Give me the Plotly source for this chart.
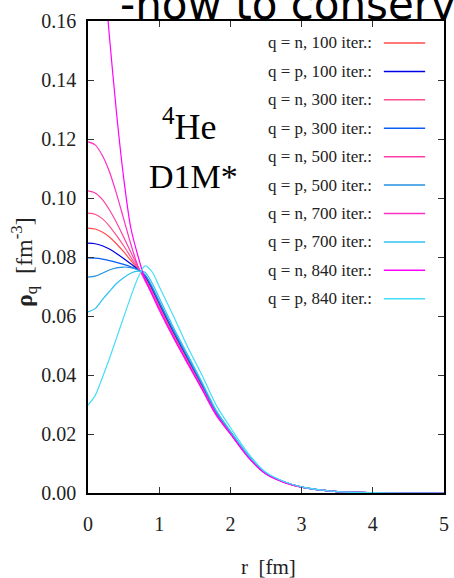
import plotly.graph_objects as go

# radial grid (fm)
r = [0.0, 0.1, 0.2, 0.3, 0.4, 0.5, 0.6, 0.7, 0.8, 0.9, 1.0, 1.2, 1.4, 1.6, 1.8,
     2.0, 2.25, 2.5, 2.75, 3.0, 3.5, 4.0, 4.5, 5.0]

# densities rho_q (fm^-3) for neutrons (n) and protons (p) at each iteration count
rho_n100 = [0.0898, 0.0895, 0.0885, 0.0868, 0.0845, 0.0818, 0.0789, 0.0760, 0.0730, 0.0687,
            0.0637, 0.0541, 0.0451, 0.0362, 0.0270, 0.0204, 0.0124, 0.0066, 0.0037, 0.0020,
            0.0005, 0.0001, 0.0, 0.0]
rho_p100 = [0.0847, 0.0845, 0.0838, 0.0827, 0.0812, 0.0795, 0.0777, 0.0758, 0.0735, 0.0692,
            0.0642, 0.0546, 0.0456, 0.0366, 0.0274, 0.0206, 0.0125, 0.0066, 0.0038, 0.0020,
            0.0005, 0.0001, 0.0, 0.0]
rho_n300 = [0.0949, 0.0945, 0.0930, 0.0905, 0.0873, 0.0838, 0.0800, 0.0763, 0.0728, 0.0684,
            0.0634, 0.0537, 0.0447, 0.0359, 0.0268, 0.0203, 0.0123, 0.0065, 0.0037, 0.0020,
            0.0005, 0.0001, 0.0, 0.0]
rho_p300 = [0.0797, 0.0796, 0.0793, 0.0788, 0.0782, 0.0775, 0.0767, 0.0757, 0.0738, 0.0695,
            0.0645, 0.0549, 0.0458, 0.0368, 0.0275, 0.0207, 0.0126, 0.0066, 0.0038, 0.0020,
            0.0005, 0.0001, 0.0, 0.0]
rho_n500 = [0.1024, 0.1017, 0.0995, 0.0960, 0.0917, 0.0868, 0.0817, 0.0768, 0.0725, 0.0680,
            0.0630, 0.0533, 0.0444, 0.0357, 0.0267, 0.0202, 0.0123, 0.0065, 0.0037, 0.0020,
            0.0005, 0.0001, 0.0, 0.0]
rho_p500 = [0.0732, 0.0735, 0.0745, 0.0756, 0.0763, 0.0766, 0.0764, 0.0757, 0.0740, 0.0700,
            0.0650, 0.0553, 0.0462, 0.0371, 0.0277, 0.0208, 0.0127, 0.0067, 0.0038, 0.0020,
            0.0005, 0.0001, 0.0, 0.0]
rho_n700 = [0.1190, 0.1180, 0.1145, 0.1090, 0.1015, 0.0930, 0.0845, 0.0770, 0.0720, 0.0676,
            0.0626, 0.0530, 0.0441, 0.0355, 0.0266, 0.0201, 0.0122, 0.0065, 0.0037, 0.0020,
            0.0005, 0.0001, 0.0, 0.0]
rho_p700 = [0.0614, 0.0625, 0.0655, 0.0683, 0.0710, 0.0730, 0.0745, 0.0752, 0.0748, 0.0712,
            0.0662, 0.0562, 0.0469, 0.0376, 0.0280, 0.0210, 0.0128, 0.0067, 0.0038, 0.0020,
            0.0005, 0.0001, 0.0, 0.0]
rho_n840 = [0.2150, 0.2060, 0.1830, 0.1550, 0.1290, 0.1070, 0.0900, 0.0805, 0.0725, 0.0672,
            0.0620, 0.0526, 0.0438, 0.0352, 0.0264, 0.0200, 0.0121, 0.0064, 0.0036, 0.0020,
            0.0005, 0.0001, 0.0, 0.0]
rho_p840 = [0.0298, 0.0330, 0.0390, 0.0455, 0.0525, 0.0595, 0.0665, 0.0728, 0.0770, 0.0750,
            0.0700, 0.0600, 0.0495, 0.0400, 0.0298, 0.0222, 0.0134, 0.0070, 0.0039, 0.0021,
            0.0005, 0.0001, 0.0, 0.0]

series_names = ["q = n, 100 iter.:", "q = p, 100 iter.:", "q = n, 300 iter.:", "q = p, 300 iter.:",
                "q = n, 500 iter.:", "q = p, 500 iter.:", "q = n, 700 iter.:", "q = p, 700 iter.:",
                "q = n, 840 iter.:", "q = p, 840 iter.:"]
series_values = [rho_n100, rho_p100, rho_n300, rho_p300, rho_n500,
                 rho_p500, rho_n700, rho_p700, rho_n840, rho_p840]
series_colors = ["#ff4d4d", "#0000e6", "#ff4f8f", "#0a5ff0", "#ff3fa5",
                 "#2390e2", "#ff2fc4", "#2ec2f2", "#ff00ff", "#45def8"]

x_ticks = [0, 1, 2, 3, 4, 5]
y_ticks = [0.00, 0.02, 0.04, 0.06, 0.08, 0.10, 0.12, 0.14, 0.16]

SERIF = "Liberation Serif"

fig = go.Figure()
for name, vals, col in zip(series_names, series_values, series_colors):
    fig.add_trace(go.Scatter(x=r, y=vals, mode="lines", name=name,
                             line=dict(color=col, width=1.2, shape="spline", smoothing=0.8),
                             showlegend=False, cliponaxis=True))

axis_common = dict(showline=True, linecolor="black", linewidth=1.5, mirror="ticks",
                   ticks="inside", ticklen=6, tickwidth=1, tickcolor="#333",
                   showgrid=False, zeroline=False,
                   tickfont=dict(family=SERIF, size=20, color="#222"))

fig.update_layout(
    width=454, height=578,
    margin=dict(l=88, r=5, t=21, b=85),
    paper_bgcolor="white", plot_bgcolor="white",
    font=dict(family=SERIF, color="#222"),
    xaxis=dict(range=[0, 5], tickvals=x_ticks, ticktext=[str(v) for v in x_ticks],
               ticklabelstandoff=12, **axis_common),
    yaxis=dict(range=[0, 0.16], tickvals=y_ticks, ticktext=[f"{v:.2f}" for v in y_ticks],
               ticklabelstandoff=6, **axis_common),
)

annotations = []
# hand-built key: text on the left, line sample on the right
LEG_TOP = 0.9534
LEG_STEP = 0.0602
shapes = []
for i, (name, col) in enumerate(zip(series_names, series_colors)):
    yy = LEG_TOP - i * LEG_STEP
    annotations.append(dict(xref="paper", yref="paper", x=0.803, y=yy, text=name,
                            xanchor="right", yanchor="middle", showarrow=False,
                            font=dict(family=SERIF, size=17, color="#222")))
    shapes.append(dict(type="line", xref="paper", yref="paper", x0=0.831, x1=0.947,
                       y0=yy, y1=yy, line=dict(color=col, width=1.5)))

annotations += [
    dict(xref="paper", yref="paper", x=0.508, y=-0.157, text="r  [fm]", showarrow=False,
         xanchor="center", yanchor="middle", font=dict(family=SERIF, size=21, color="#222")),
    dict(xref="paper", yref="paper", x=-0.18, y=0.489, textangle=-90,
         text="<b>ρ</b><sub>q</sub>  [fm<sup>-3</sup>]", showarrow=False,
         xanchor="center", yanchor="middle", font=dict(family=SERIF, size=24, color="#222")),
    dict(xref="paper", yref="paper", x=0.285, y=0.78, text="<sup>4</sup>He", showarrow=False,
         xanchor="center", yanchor="middle", font=dict(family=SERIF, size=36, color="black")),
    dict(xref="paper", yref="paper", x=0.297, y=0.67, text="D1M*", showarrow=False,
         xanchor="center", yanchor="middle", font=dict(family=SERIF, size=34, color="black")),
    dict(xref="paper", yref="paper", x=0.083, y=0.979, text="-how to conserve",
         showarrow=False, xanchor="left", yanchor="bottom",
         font=dict(family="DejaVu Sans", size=42, color="black")),
]
fig.update_layout(annotations=annotations, shapes=shapes)

fig.write_html("out.html")
